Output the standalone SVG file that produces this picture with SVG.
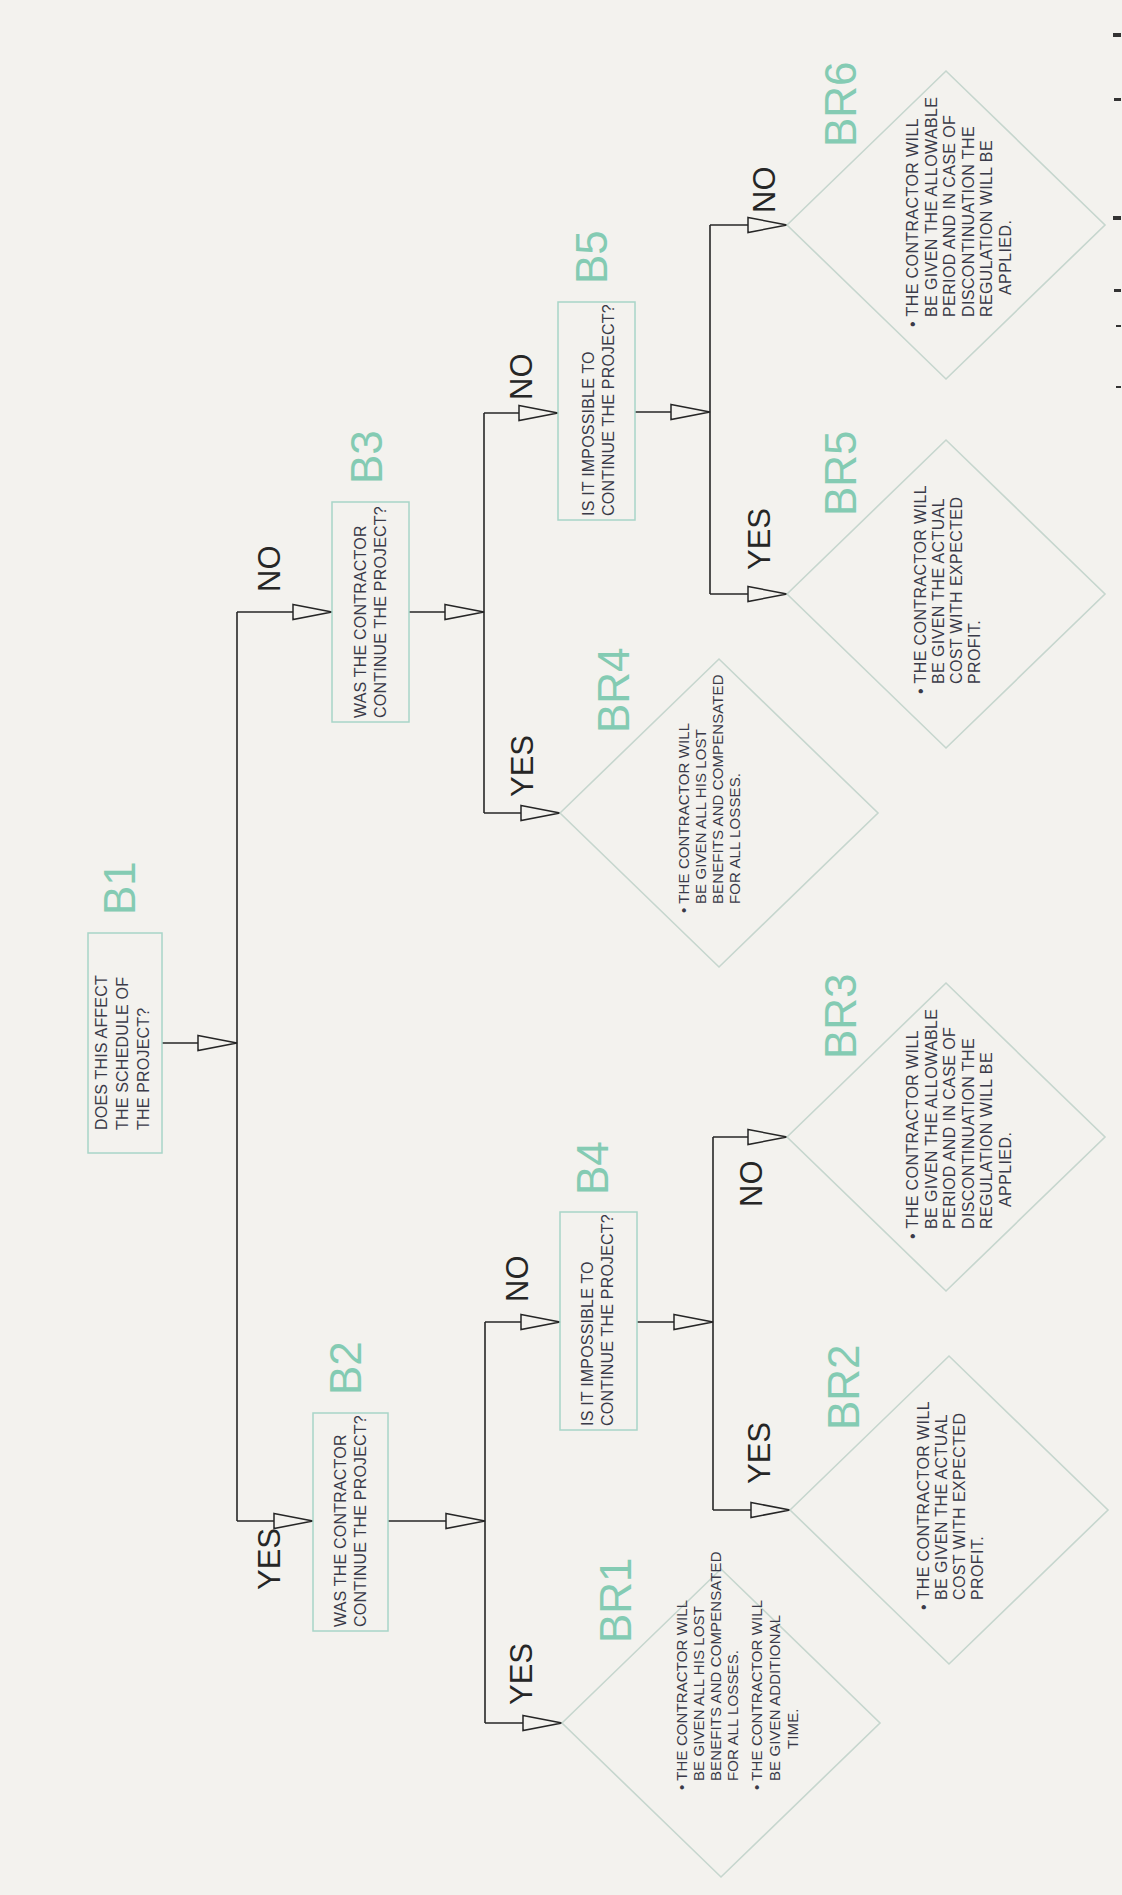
<svg xmlns="http://www.w3.org/2000/svg" width="1122" height="1895" viewBox="0 0 1122 1895">
<style>
.bg{fill:#f3f2ee}
.box{fill:none;stroke:#a8d5c8;stroke-width:1.5}
.dia{fill:none;stroke:#c6d6ce;stroke-width:1.6}
.t{font-family:"Liberation Sans",Arial,sans-serif;font-size:16px;fill:#3a3a48;letter-spacing:0.4px}
.ts{font-family:"Liberation Sans",Arial,sans-serif;font-size:15px;fill:#3a3a48;letter-spacing:0.1px}
.bt{font-family:"Liberation Sans",Arial,sans-serif;font-size:16px;fill:#3a3a48;letter-spacing:0.2px}
.lbl{font-family:"Liberation Sans",Arial,sans-serif;font-size:44px;fill:#84cbb3}
.yn{font-family:"Liberation Sans",Arial,sans-serif;font-size:31px;fill:#262626}
.c{fill:none;stroke:#262626;stroke-width:1.6}
.mk{fill:#333}
</style>
<defs>
<marker id="ah" markerUnits="userSpaceOnUse" markerWidth="44" markerHeight="20" refX="41" refY="10" orient="auto" viewBox="0 0 44 20"><path d="M2,2.5 L41,10 L2,17.5 Z" fill="#f3f2ee" stroke="#262626" stroke-width="1.5"/></marker>
</defs>
<rect class="bg" x="0" y="0" width="1122" height="1895"/>

<g id="connectors">
<path class="c" d="M162,1043 H237" marker-end="url(#ah)"/>
<path class="c" d="M237,612 V1521"/>
<path class="c" d="M237,612 H332" marker-end="url(#ah)"/>
<path class="c" d="M237,1521 H313" marker-end="url(#ah)"/>
<path class="c" d="M409,612 H484" marker-end="url(#ah)"/>
<path class="c" d="M484,413 V813"/>
<path class="c" d="M484,413 H558" marker-end="url(#ah)"/>
<path class="c" d="M484,813 H560" marker-end="url(#ah)"/>
<path class="c" d="M388,1521 H485" marker-end="url(#ah)"/>
<path class="c" d="M485,1322 V1723"/>
<path class="c" d="M485,1322 H560" marker-end="url(#ah)"/>
<path class="c" d="M485,1723 H562" marker-end="url(#ah)"/>
<path class="c" d="M635,412 H710" marker-end="url(#ah)"/>
<path class="c" d="M710,225 V594"/>
<path class="c" d="M710,225 H787" marker-end="url(#ah)"/>
<path class="c" d="M710,594 H787" marker-end="url(#ah)"/>
<path class="c" d="M637,1322 H713" marker-end="url(#ah)"/>
<path class="c" d="M713,1137 V1510"/>
<path class="c" d="M713,1137 H787" marker-end="url(#ah)"/>
<path class="c" d="M713,1510 H790" marker-end="url(#ah)"/>
<text class="yn" transform="translate(280,592) rotate(-90)">NO</text>
<text class="yn" transform="translate(280,1590) rotate(-90)">YES</text>
<text class="yn" transform="translate(532,400) rotate(-90)">NO</text>
<text class="yn" transform="translate(533,797) rotate(-90)">YES</text>
<text class="yn" transform="translate(528,1302) rotate(-90)">NO</text>
<text class="yn" transform="translate(532,1705) rotate(-90)">YES</text>
<text class="yn" transform="translate(775,213) rotate(-90)">NO</text>
<text class="yn" transform="translate(770,570) rotate(-90)">YES</text>
<text class="yn" transform="translate(762,1207) rotate(-90)">NO</text>
<text class="yn" transform="translate(770,1484) rotate(-90)">YES</text>
</g>

<g id="B1">
<rect class="box" x="88" y="933" width="74" height="220"/>
<text class="lbl" transform="translate(135,915) rotate(-90)">B1</text>
<g transform="translate(88,1153) rotate(-90)">
<text class="bt" x="23" y="19">DOES THIS AFFECT</text>
<text class="bt" x="23" y="40">THE SCHEDULE OF</text>
<text class="bt" x="23" y="61">THE PROJECT?</text>
</g>
</g>

<g id="B2">
<rect class="box" x="313" y="1413" width="75" height="218"/>
<text class="lbl" transform="translate(361,1395) rotate(-90)">B2</text>
<g transform="translate(313,1631) rotate(-90)">
<text class="bt" x="4" y="33">WAS THE CONTRACTOR</text>
<text class="bt" x="4" y="53">CONTINUE THE PROJECT?</text>
</g>
</g>

<g id="B3">
<rect class="box" x="332" y="502" width="77" height="220"/>
<text class="lbl" transform="translate(382,484) rotate(-90)">B3</text>
<g transform="translate(332,722) rotate(-90)">
<text class="bt" x="4" y="34">WAS THE CONTRACTOR</text>
<text class="bt" x="4" y="54">CONTINUE THE PROJECT?</text>
</g>
</g>

<g id="B4">
<rect class="box" x="560" y="1212" width="77" height="218"/>
<text class="lbl" transform="translate(608,1195) rotate(-90)">B4</text>
<g transform="translate(560,1430) rotate(-90)">
<text class="bt" x="4" y="33">IS IT IMPOSSIBLE TO</text>
<text class="bt" x="4" y="53">CONTINUE THE PROJECT?</text>
</g>
</g>

<g id="B5">
<rect class="box" x="558" y="302" width="77" height="218"/>
<text class="lbl" transform="translate(607,284) rotate(-90)">B5</text>
<g transform="translate(558,520) rotate(-90)">
<text class="bt" x="4" y="36">IS IT IMPOSSIBLE TO</text>
<text class="bt" x="4" y="56">CONTINUE THE PROJECT?</text>
</g>
</g>

<g id="BR1">
<polygon class="dia" points="562,1723 721,1569 880,1723 721,1877"/>
<text class="lbl" transform="translate(631,1643) rotate(-90)">BR1</text>
<g transform="translate(721,1723) rotate(-90)">
<text class="ts" x="-67" y="-34">• THE CONTRACTOR WILL</text>
<text class="ts" x="-58" y="-17">BE GIVEN ALL HIS LOST</text>
<text class="ts" x="-58" y="0">BENEFITS AND COMPENSATED</text>
<text class="ts" x="-58" y="17">FOR ALL LOSSES.</text>
<text class="ts" x="-67" y="41">• THE CONTRACTOR WILL</text>
<text class="ts" x="-58" y="59">BE GIVEN ADDITIONAL</text>
<text class="ts" x="-26" y="77">TIME.</text>
</g>
</g>

<g id="BR2">
<polygon class="dia" points="790,1510 949,1356 1108,1510 949,1664"/>
<text class="lbl" transform="translate(859,1430) rotate(-90)">BR2</text>
<g transform="translate(949,1510) rotate(-90)">
<text class="t" x="-100" y="-20">• THE CONTRACTOR WILL</text>
<text class="t" x="-90" y="-2">BE GIVEN THE ACTUAL</text>
<text class="t" x="-90" y="16">COST WITH EXPECTED</text>
<text class="t" x="-90" y="34">PROFIT.</text>
</g>
</g>

<g id="BR3">
<polygon class="dia" points="787,1137 946,983 1105,1137 946,1291"/>
<text class="lbl" transform="translate(856,1059) rotate(-90)">BR3</text>
<g transform="translate(946,1137) rotate(-90)">
<text class="t" x="-102" y="-28">• THE CONTRACTOR WILL</text>
<text class="t" x="-92" y="-9.5">BE GIVEN THE ALLOWABLE</text>
<text class="t" x="-92" y="9">PERIOD AND IN CASE OF</text>
<text class="t" x="-92" y="27.5">DISCONTINUATION THE</text>
<text class="t" x="-92" y="46">REGULATION WILL BE</text>
<text class="t" x="-70" y="65">APPLIED.</text>
</g>
</g>

<g id="BR4">
<polygon class="dia" points="560,813 719,659 878,813 719,967"/>
<text class="lbl" transform="translate(629,733) rotate(-90)">BR4</text>
<g transform="translate(719,813) rotate(-90)">
<text class="ts" x="-100" y="-30">• THE CONTRACTOR WILL</text>
<text class="ts" x="-91" y="-13">BE GIVEN ALL HIS LOST</text>
<text class="ts" x="-91" y="4">BENEFITS AND COMPENSATED</text>
<text class="ts" x="-91" y="21">FOR ALL LOSSES.</text>
</g>
</g>

<g id="BR5">
<polygon class="dia" points="787,594 946,440 1105,594 946,748"/>
<text class="lbl" transform="translate(856,516) rotate(-90)">BR5</text>
<g transform="translate(946,594) rotate(-90)">
<text class="t" x="-100" y="-20">• THE CONTRACTOR WILL</text>
<text class="t" x="-90" y="-2">BE GIVEN THE ACTUAL</text>
<text class="t" x="-90" y="16">COST WITH EXPECTED</text>
<text class="t" x="-90" y="34">PROFIT.</text>
</g>
</g>

<g id="BR6">
<polygon class="dia" points="787,225 946,71 1105,225 946,379"/>
<text class="lbl" transform="translate(856,147) rotate(-90)">BR6</text>
<g transform="translate(946,225) rotate(-90)">
<text class="t" x="-102" y="-28">• THE CONTRACTOR WILL</text>
<text class="t" x="-92" y="-9.5">BE GIVEN THE ALLOWABLE</text>
<text class="t" x="-92" y="9">PERIOD AND IN CASE OF</text>
<text class="t" x="-92" y="27.5">DISCONTINUATION THE</text>
<text class="t" x="-92" y="46">REGULATION WILL BE</text>
<text class="t" x="-70" y="65">APPLIED.</text>
</g>
</g>

<g id="edge-marks">
<rect class="mk" x="1113" y="33" width="8" height="4"/>
<rect class="mk" x="1114" y="98" width="7" height="3"/>
<rect class="mk" x="1113" y="216" width="8" height="4"/>
<rect class="mk" x="1114" y="289" width="7" height="3"/>
<rect class="mk" x="1116" y="325" width="5" height="2"/>
<rect class="mk" x="1116" y="386" width="5" height="2"/>
</g>
</svg>
